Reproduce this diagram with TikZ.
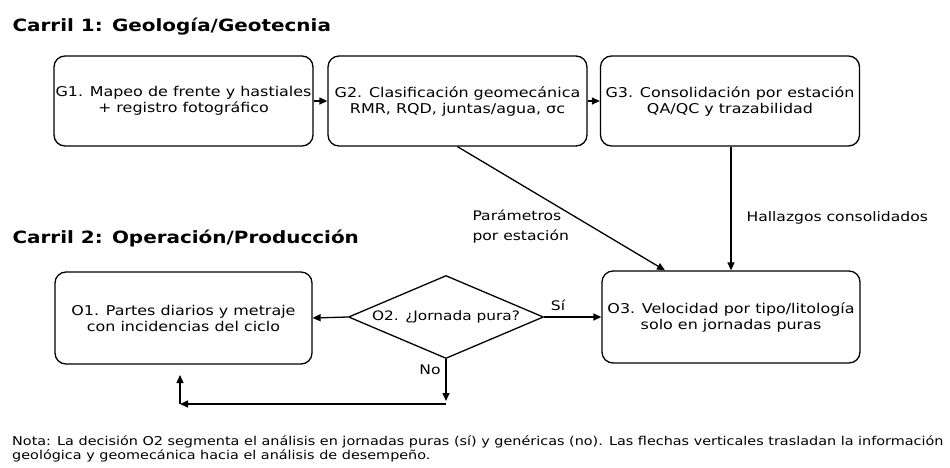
\documentclass[tikz,border=0pt]{standalone}
\usepackage{fontspec}
\setmainfont{DejaVu Sans}[FakeStretch=1.18]
\usetikzlibrary{shapes.geometric,arrows.meta}
\tikzset{
  lane/.style={anchor=west,font=\bfseries\fontsize{16.9}{20}\selectfont},
  stepbox/.style={draw,rounded corners=11pt,line width=1.3pt,minimum width=259pt,
    minimum height=90pt,inner sep=0pt,align=center,font=\fontsize{13.5}{16}\selectfont},
  decision/.style={draw,diamond,line width=1.3pt,minimum width=195pt,minimum height=83pt,
    inner sep=0pt,aspect=2.35,font=\fontsize{13}{16}\selectfont},
  lbl/.style={font=\fontsize{13.2}{20}\selectfont,align=left},
  flow/.style={line width=1.3pt,-{Triangle[length=8pt,width=7pt]}},
}
\begin{document}
\begin{tikzpicture}[x=1pt,y=-1pt]
  \useasboundingbox (0,0) rectangle (950,467);
  \node[lane] (lane1) at (9,27) {Carril 1: Geología/Geotecnia};
  \node[lane] (lane2) at (9,238) {Carril 2: Operación/Producción};
  \node[stepbox] (g1) at (183.5,101) {G1. Mapeo de frente y hastiales\\+ registro fotográfico};
  \node[stepbox] (g2) at (457.5,101) {G2. Clasificación geomecánica\\RMR, RQD, juntas/agua, σc};
  \node[stepbox] (g3) at (730,101) {G3. Consolidación por estación\\QA/QC y trazabilidad};
  \node[stepbox,minimum width=257pt,minimum height=92pt] (o1) at (183.5,318) {O1. Partes diarios y metraje\\con incidencias del ciclo};
  \node[decision] (o2) at (446,317) {O2. ¿Jornada pura?};
  \node[stepbox,minimum width=258pt,minimum height=92pt] (o3) at (731,317) {O3. Velocidad por tipo/litología\\solo en jornadas puras};
  \coordinate (n1) at (446,401);
  \coordinate (n2) at (180,404);
  \coordinate (n3) at (180,375);
  \begin{scope}[flow]
    \draw (g1) to (g2);
    \draw (g2) to (g3);
    \draw (g2.south) to (o3.north -| 665,0);
    \draw (g3.south -| 731,0) to (o3.north -| 731,0);
    \draw (o2.east) to (o3.west);
    \draw (o2.west) to (o1.east);
    \draw (o2.south) to (n1);
    \draw (n1 |- n2) to (n2);
    \draw (n2) to (n3);
  \end{scope}
  \node[lbl,anchor=west] (lp) at (469,227) {Parámetros\\por estación};
  \node[lbl,anchor=west] (lh) at (743,218) {Hallazgos consolidados};
  \node[lbl] (lsi) at (558,305) {Sí};
  \node[lbl] (lno) at (430,370) {No};
  \node[anchor=north west,align=left,inner sep=0pt,font=\fontsize{12.2}{13.5}\selectfont] (note) at (12,436)
    {Nota: La decisión O2 segmenta el análisis en jornadas puras (sí) y genéricas (no). Las flechas verticales trasladan la información\\geológica y geomecánica hacia el análisis de desempeño.};
\end{tikzpicture}
\end{document}
